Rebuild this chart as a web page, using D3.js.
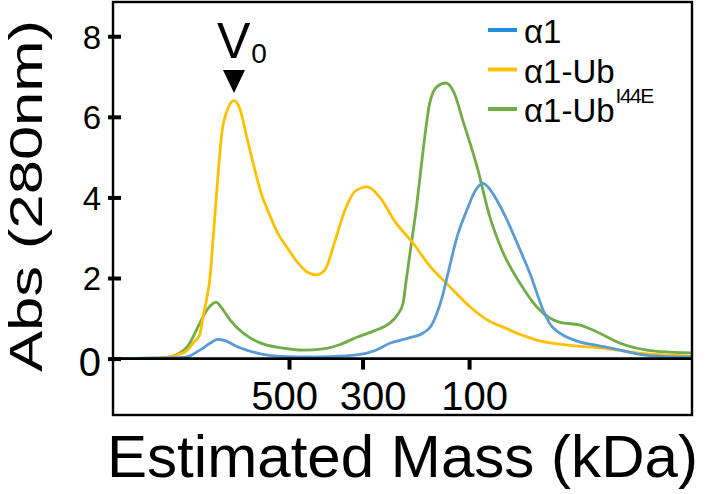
<!DOCTYPE html>
<html>
<head>
<meta charset="utf-8">
<script src="https://cdn.jsdelivr.net/npm/d3@7"></script>
<style>
html,body{margin:0;padding:0;background:#fff;}
svg{display:block;font-family:"Liberation Sans",Arial,Helvetica,sans-serif;}
</style>
</head>
<body>
<svg id="chart" width="709" height="494"></svg>
<script>
// Elution position (0-100 across the plotted run) and absorbance at 280 nm
const elutionA1 = [0,12.4,15.0,16.75,18.1,19.5,21.1,23.1,25.7,28.3,32.3,37.5,42.1,45.3,47.8,51.3,53.5,54.9,55.96,56.8,57.7,59.4,61.1,62.5,63.9,65.1,66.3,67.7,69.1,70.6,72.0,74.3,75.5,77.2,80.7,83.6,87.6,91.5,95.3,100];
const absA1     = [0,0.03,0.21,0.38,0.48,0.44,0.32,0.21,0.11,0.06,0.04,0.05,0.09,0.2,0.38,0.52,0.63,0.8,1.13,1.5,2.02,3.01,3.68,4.15,4.35,4.2,3.93,3.55,3.1,2.6,2.12,1.2,0.85,0.63,0.41,0.33,0.21,0.09,0.05,0.04];

const elutionUb = [0,8.1,11.05,12.8,13.8,15.0,15.5,16.2,16.75,17.3,18.0,18.8,19.7,20.9,21.9,23.1,24.2,25.6,27.1,28.5,30.1,31.8,33.5,35.1,36.6,38.3,40.1,41.8,43.9,46.1,48.7,51.8,54.7,58.2,61.7,65.1,67.4,70.3,73.2,78.9,84.6,90.5,95.3,100];
const absUb     = [0,0.01,0.09,0.2,0.38,0.6,1.0,1.5,2.0,3.0,4.3,5.6,6.15,6.4,6.2,5.5,4.85,4.1,3.55,3.1,2.75,2.4,2.15,2.08,2.2,2.9,3.7,4.15,4.26,4.0,3.4,2.87,2.3,1.78,1.28,0.92,0.78,0.6,0.46,0.33,0.26,0.14,0.09,0.06];

const elutionUbI44E = [0,8.1,9.8,12.8,15.0,16.2,17.4,17.8,18.8,20.2,22.5,25.4,29.4,32.8,36.3,39.2,42.1,45.3,47.8,49.2,50.1,50.6,51.3,52.5,53.5,54.7,55.96,57.5,58.9,60.4,62.9,65.1,67.4,70.3,73.2,75.5,77.2,80.7,83.6,87.6,92.2,96.2,100];
const absUbI44E     = [0,0.01,0.04,0.29,0.88,1.2,1.38,1.4,1.25,0.96,0.63,0.39,0.26,0.21,0.24,0.35,0.53,0.7,0.88,1.1,1.38,1.9,2.62,3.86,5.1,6.34,6.75,6.84,6.6,5.92,4.75,3.51,2.62,1.87,1.28,1.0,0.9,0.83,0.66,0.38,0.21,0.16,0.14];

const seriesNames = ["α1", "α1-Ub", "α1-Ub"];
const seriesSup   = ["", "", "I44E"];

const massTickLabels = ["500", "300", "100"];
const massTickElution = [30.4, 43.1, 61.5];
const absTicks = [0, 2, 4, 6, 8];
const voidElution = 20.9;

// ---- layout ----
const W = 709, H = 494;
const mLeft = 113, mRight = 692, mTop = 2, mBottom = 415;
const lineColors = ["#5b9bd5", "#ffc000", "#70ad47"];
const swatchColors = ["#1f8dd8", "#ffc000", "#70ad47"];
const massLabelNudge = [-5, 10, 5];

const svg = d3.select("#chart");

const x = d3.scaleLinear().domain([0, 100]).range([mLeft, mRight]);
const y = d3.scaleLinear().domain([-1.4, 8.85]).range([mBottom, mTop]);

const series = [
  elutionA1.map((e, i) => [e, absA1[i]]),
  elutionUb.map((e, i) => [e, absUb[i]]),
  elutionUbI44E.map((e, i) => [e, absUbI44E[i]])
];

const line = d3.line()
  .x(d => x(d[0]))
  .y(d => y(d[1]))
  .curve(d3.curveMonotoneX);

const order = [2, 1, 0];
svg.append("g").selectAll("path")
  .data(order)
  .join("path")
  .attr("d", i => line(series[i]))
  .attr("fill", "none")
  .attr("stroke", i => lineColors[i])
  .attr("stroke-width", 2.8)
  .attr("stroke-linejoin", "round");

// zero baseline
svg.append("line")
  .attr("x1", mLeft).attr("x2", mRight)
  .attr("y1", y(0)).attr("y2", y(0))
  .attr("stroke", "#000").attr("stroke-width", 2.6);

// frame
svg.append("rect")
  .attr("x", mLeft).attr("y", mTop)
  .attr("width", mRight - mLeft).attr("height", mBottom - mTop)
  .attr("fill", "none").attr("stroke", "#000").attr("stroke-width", 2.4);

// y axis ticks
const yAxis = d3.axisLeft(y).tickValues(absTicks).tickSize(0).tickFormat(d3.format("d"));
const yg = svg.append("g").attr("transform", `translate(${mLeft},0)`).call(yAxis);
yg.select(".domain").remove();
yg.selectAll(".tick line").remove();
yg.selectAll(".tick").append("line")
  .attr("x1", -5).attr("x2", 8)
  .attr("stroke", "#000").attr("stroke-width", 4);
yg.selectAll(".tick text")
  .attr("x", -12)
  .attr("dy", d => d === 0 ? "0.42em" : "0.36em")
  .attr("fill", "#000")
  .style("font-size", d => d === 0 ? "40px" : "33px")
  .style("font-family", "'Liberation Sans', Arial, sans-serif");

// x axis ticks on the zero line
const xAxis = d3.axisBottom(x).tickValues(massTickElution).tickSize(0)
  .tickFormat((d, i) => massTickLabels[i]);
const xg = svg.append("g").attr("transform", `translate(0,${y(0)})`).call(xAxis);
xg.select(".domain").remove();
xg.selectAll(".tick").append("line")
  .attr("y1", 0).attr("y2", 11)
  .attr("stroke", "#000").attr("stroke-width", 4);
xg.selectAll(".tick text")
  .attr("y", 51)
  .attr("dy", 0)
  .attr("x", (d, i) => massLabelNudge[i])
  .attr("fill", "#000")
  .style("font-size", "40px")
  .style("font-family", "'Liberation Sans', Arial, sans-serif");

// V0 marker
const vx = x(voidElution);
svg.append("path")
  .attr("d", `M${vx - 11},70 L${vx + 11},70 L${vx},93 Z`)
  .attr("fill", "#000");
const vt = svg.append("text")
  .attr("x", vx - 17).attr("y", 58)
  .attr("fill", "#000")
  .style("font-size", "50px");
vt.append("tspan").text("V");
vt.append("tspan").attr("dx", 1).attr("dy", 5).style("font-size", "28px").text("0");

// legend
const legend = svg.append("g");
seriesNames.forEach((name, i) => {
  const by = 43 + i * 39.5;
  legend.append("line")
    .attr("x1", 488).attr("x2", 517)
    .attr("y1", by - 13).attr("y2", by - 13)
    .attr("stroke", swatchColors[i]).attr("stroke-width", 4);
  const t = legend.append("text")
    .attr("x", 524).attr("y", by)
    .attr("fill", "#000")
    .style("font-size", "33px");
  t.append("tspan").text(name);
  if (seriesSup[i]) {
    t.append("tspan").attr("dy", -19).attr("dx", 1)
      .style("font-size", "21px").style("letter-spacing", "-1.5px")
      .text(seriesSup[i]);
  }
});

// axis titles
svg.append("text")
  .attr("transform", `translate(42,${(20 + 372) / 2}) rotate(-90)`)
  .attr("text-anchor", "middle")
  .attr("fill", "#000")
  .attr("textLength", 352)
  .attr("lengthAdjust", "spacingAndGlyphs")
  .style("font-size", "46px")
  .text("Abs (280nm)");

svg.append("text")
  .attr("x", 107).attr("y", 477)
  .attr("fill", "#000")
  .attr("textLength", 591)
  .attr("lengthAdjust", "spacingAndGlyphs")
  .style("font-size", "60px")
  .text("Estimated Mass (kDa)");
</script>
</body>
</html>
